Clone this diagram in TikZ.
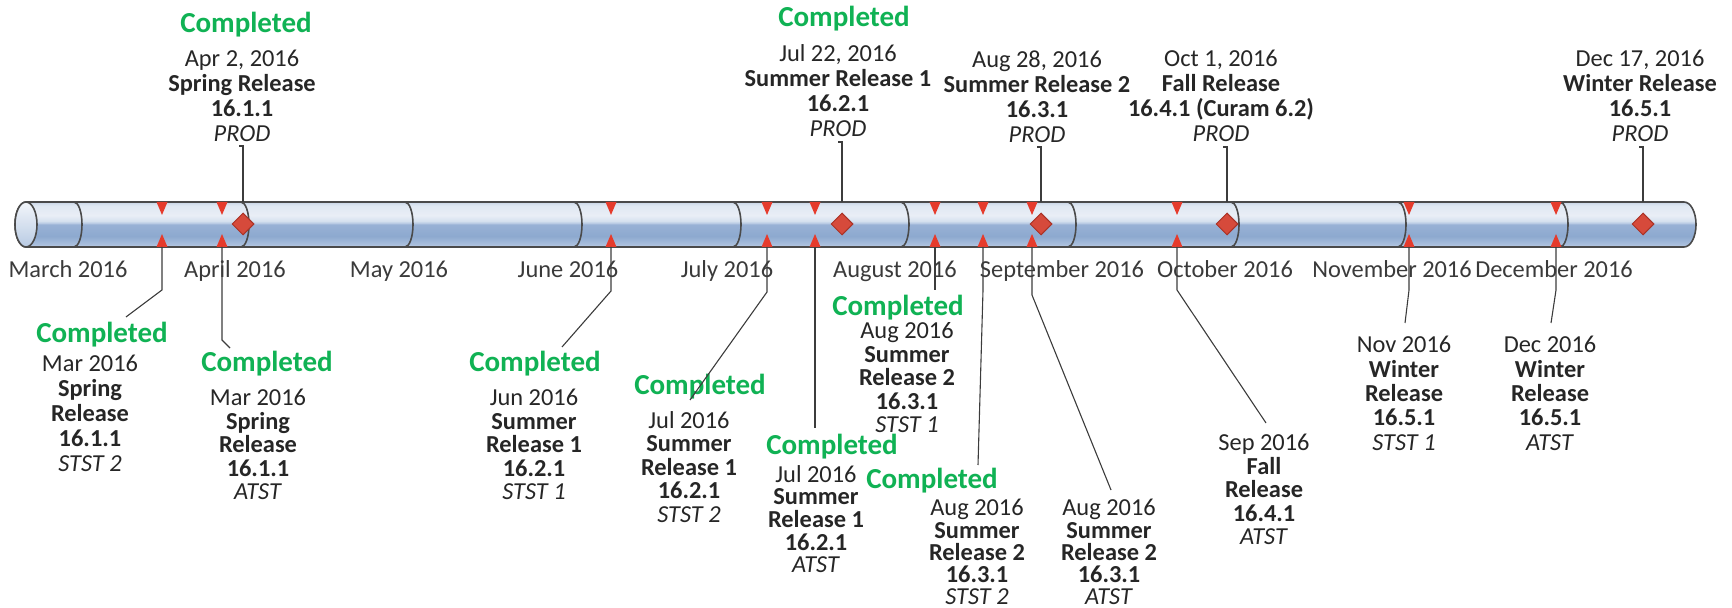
\documentclass[tikz,border=0pt]{standalone}
\usepackage{fontspec}
\setmainfont{Carlito}
\usetikzlibrary{shapes}
\definecolor{txtgray}{HTML}{262626}
\definecolor{monthgray}{HTML}{3A3A3A}
\definecolor{donegreen}{RGB}{16,178,84}
\definecolor{tickred}{HTML}{E53B2C}
\definecolor{gofill}{HTML}{D64A3B}
\definecolor{godraw}{HTML}{A93226}
\definecolor{tubeline}{HTML}{4A4A4A}
\definecolor{linegray}{HTML}{3C3C3C}
\definecolor{tubeA}{HTML}{C0D0E8}
\definecolor{tubeB}{HTML}{A9BFDD}
\definecolor{tubeC}{HTML}{8DA9CF}
\definecolor{tubeD}{HTML}{98B1D5}
\definecolor{tubeE}{HTML}{B8CAE3}
\definecolor{tubeF}{HTML}{D6E1EF}
\definecolor{tubeG}{HTML}{E9EEF6}
\definecolor{tubeH}{HTML}{E0E8F2}
\definecolor{tubeI}{HTML}{C9D5E6}
\pgfdeclareverticalshading{tube}{100bp}{color(0bp)=(tubeA); color(25bp)=(tubeA); color(28bp)=(tubeB); color(37bp)=(tubeC); color(50bp)=(tubeD); color(51.5bp)=(tubeE); color(54bp)=(tubeF); color(60bp)=(tubeG); color(71bp)=(tubeH); color(75bp)=(tubeI); color(100bp)=(tubeI)}
\tikzstyle{month} = [text=monthgray, font=\fontsize{12.2}{12}\selectfont, inner sep=0pt, anchor=base]
\tikzstyle{release} = [align=center, text=txtgray, font=\fontsize{12.2}{11.75}\selectfont, inner sep=0pt, anchor=north]
\tikzstyle{prodrelease} = [release, font=\fontsize{12.2}{12.5}\selectfont]
\tikzstyle{done} = [text=donegreen, font=\bfseries\fontsize{14.5}{14}\selectfont, fill=white, inner sep=1pt]
\tikzstyle{golive} = [diamond, fill=gofill, draw=godraw, line width=0.5pt, minimum size=11pt, inner sep=0pt]
\tikzstyle{leader} = [draw=linegray, line width=0.55pt]

\begin{document}
\begin{tikzpicture}[x=0.5pt, y=-0.5pt]
	\useasboundingbox (0,0) rectangle (1732,608);
	% the tube
	\coordinate (tubetop) at (0,202);
	\shadedraw[shading=tube, draw=tubeline, line width=0.8pt] (26,202) -- (1684,202)
		arc[start angle=90, end angle=-90, x radius=6pt, y radius=11.25pt] -- (26,247)
		arc[start angle=270, end angle=90, x radius=5.5pt, y radius=11.25pt] -- cycle;
	\filldraw[top color=white!70!tubeF, bottom color=tubeE, draw=tubeline, line width=0.8pt] (26,224.5) ellipse[x radius=5.5pt, y radius=11.25pt];
	\foreach \d in {78,245,409,578,737,905,1072,1235,1402,1564}
		\draw[tubeline, line width=0.8pt] (\d-4,202) arc[start angle=90, end angle=-90, x radius=4pt, y radius=11.25pt];
	\foreach \d/\m in {78/March, 245/April, 409/May, 578/June, 737/July, 905/August, 1072/September, 1235/October, 1402/November, 1564/December}
		\node[month] (\m) at (\d-10,278) {\m\ 2016};
	% ticks
	\foreach \x/\n in {162/mar-s2, 222/mar-at, 611/jun-s1, 767/jul-s2, 815/jul-at, 935/aug-s1, 983/aug-s2, 1032/aug-at, 1177/sep-at, 1409/nov-s1, 1556/dec-at}{
		\coordinate (\n) at (\x,247);
		\fill[tickred] (\x-5.5,202) -- (\x+5.5,202) -- (\x,215) -- cycle;
		\fill[tickred] (\x-5.5,247) -- (\x+5.5,247) -- (\x,234) -- cycle;
	}
	\node[golive] (apr-prod) at (243,224) {};
	\node[golive] (jul-prod) at (842,224) {};
	\node[golive] (aug-prod) at (1041,224) {};
	\node[golive] (oct-prod) at (1227,224) {};
	\node[golive] (dec-prod) at (1643,224) {};

	% production releases
	\node[prodrelease] (apr-txt) at (242,50) {Apr 2, 2016\\\textbf{Spring Release}\\\textbf{16.1.1}\\\textit{PROD}};
	\node[prodrelease] (jul-txt) at (838,44) {Jul 22, 2016\\\textbf{Summer Release 1}\\\textbf{16.2.1}\\\textit{PROD}};
	\node[prodrelease] (aug-txt) at (1037,50) {Aug 28, 2016\\\textbf{Summer Release 2}\\\textbf{16.3.1}\\\textit{PROD}};
	\node[prodrelease] (oct-txt) at (1221,50) {Oct 1, 2016\\\textbf{Fall Release}\\\textbf{16.4.1 (Curam 6.2)}\\\textit{PROD}};
	\node[prodrelease] (dec-txt) at (1640,50) {Dec 17, 2016\\\textbf{Winter Release}\\\textbf{16.5.1}\\\textit{PROD}};
	\node[done] (apr-done) at (246,25) {Completed};
	\node[done] (jul-done) at (844,19) {Completed};

	% test environments
	\node[release, font=\fontsize{12.2}{12.4}\selectfont] (mar-s2-txt) at (90,355) {Mar 2016\\\textbf{Spring}\\\textbf{Release}\\\textbf{16.1.1}\\\textit{STST 2}};
	\node[release] (mar-at-txt) at (258,389) {Mar 2016\\\textbf{Spring}\\\textbf{Release}\\\textbf{16.1.1}\\\textit{ATST}};
	\node[release] (jun-s1-txt) at (534,389) {Jun 2016\\\textbf{Summer}\\\textbf{Release 1}\\\textbf{16.2.1}\\\textit{STST 1}};
	\node[release] (jul-s2-txt) at (689,411) {Jul 2016\\\textbf{Summer}\\\textbf{Release 1}\\\textbf{16.2.1}\\\textit{STST 2}};
	\node[release, font=\fontsize{12.2}{11.3}\selectfont] (jul-at-txt) at (816,465) {Jul 2016\\\textbf{Summer}\\\textbf{Release 1}\\\textbf{16.2.1}\\\textit{ATST}};
	\node[release] (aug-s1-txt) at (907,322) {Aug 2016\\\textbf{Summer}\\\textbf{Release 2}\\\textbf{16.3.1}\\\textit{STST 1}};
	\node[release, font=\fontsize{12.2}{11.1}\selectfont] (aug-s2-txt) at (977,499) {Aug 2016\\\textbf{Summer}\\\textbf{Release 2}\\\textbf{16.3.1}\\\textit{STST 2}};
	\node[release, font=\fontsize{12.2}{11.1}\selectfont] (aug-at-txt) at (1109,499) {Aug 2016\\\textbf{Summer}\\\textbf{Release 2}\\\textbf{16.3.1}\\\textit{ATST}};
	\node[release] (sep-at-txt) at (1264,434) {Sep 2016\\\textbf{Fall}\\\textbf{Release}\\\textbf{16.4.1}\\\textit{ATST}};
	\node[release, font=\fontsize{12.2}{12.15}\selectfont] (nov-s1-txt) at (1404,336) {Nov 2016\\\textbf{Winter}\\\textbf{Release}\\\textbf{16.5.1}\\\textit{STST 1}};
	\node[release, font=\fontsize{12.2}{12.15}\selectfont] (dec-at-txt) at (1550,336) {Dec 2016\\\textbf{Winter}\\\textbf{Release}\\\textbf{16.5.1}\\\textit{ATST}};
	\node[done] (mar-s2-done) at (102,335) {Completed};
	\node[done] (mar-at-done) at (267,364) {Completed};
	\node[done] (jun-s1-done) at (535,364) {Completed};
	\node[done] (jul-s2-done) at (700,387) {Completed};
	\node[done] (jul-at-done) at (832,447) {Completed};
	\node[done] (aug-s1-done) at (898,308) {Completed};
	\node[done] (aug-s2-done) at (932,481) {Completed};

	% leader lines
	\coordinate (apr-lead) at (243,146);
	\coordinate (jul-lead) at (842,142);
	\coordinate (aug-lead) at (1041,147);
	\coordinate (oct-lead) at (1227,147);
	\coordinate (dec-lead) at (1643,147);
	\draw[leader] (apr-prod |- tubetop) -- (apr-lead) -- ++(-4,0);
	\draw[leader] (jul-prod |- tubetop) -- (jul-lead) -- ++(-4,0);
	\draw[leader] (aug-prod |- tubetop) -- (aug-lead) -- ++(-4,0);
	\draw[leader] (oct-prod |- tubetop) -- (oct-lead) -- ++(-4,0);
	\draw[leader] (dec-prod |- tubetop) -- (dec-lead) -- ++(-4,0);

	\coordinate (mar-s2-end) at (126,317);
	\coordinate (mar-at-end) at (230,348);
	\coordinate (jun-s1-end) at (562,347);
	\coordinate (jul-s2-end) at (690,400);
	\coordinate (jul-at-end) at (815,428);
	\coordinate (aug-s1-end) at (935,290);
	\coordinate (aug-s2-end) at (978,465);
	\coordinate (aug-at-end) at (1111,490);
	\coordinate (sep-at-end) at (1266,423);
	\coordinate (nov-s1-end) at (1405,323);
	\coordinate (dec-at-end) at (1551,323);
	\draw[leader] (mar-s2) -- ++(0,43) -- (mar-s2-end);
	\draw[leader] (mar-at) -- ++(0,93) -- (mar-at-end);
	\draw[leader] (jun-s1) -- ++(0,44) -- (jun-s1-end);
	\draw[leader] (jul-s2) -- ++(0,45) -- (jul-s2-end);
	\draw[leader] (jul-at) -- (jul-at-end);
	\draw[leader] (aug-s1) -- (aug-s1-end);
	\draw[leader] (aug-s2) -- ++(0,43) -- (aug-s2-end);
	\draw[leader] (aug-at) -- ++(0,48) -- (aug-at-end);
	\draw[leader] (sep-at) -- ++(0,43) -- (sep-at-end);
	\draw[leader] (nov-s1) -- ++(0,43) -- (nov-s1-end);
	\draw[leader] (dec-at) -- ++(0,43) -- (dec-at-end);
\end{tikzpicture}
\end{document}
